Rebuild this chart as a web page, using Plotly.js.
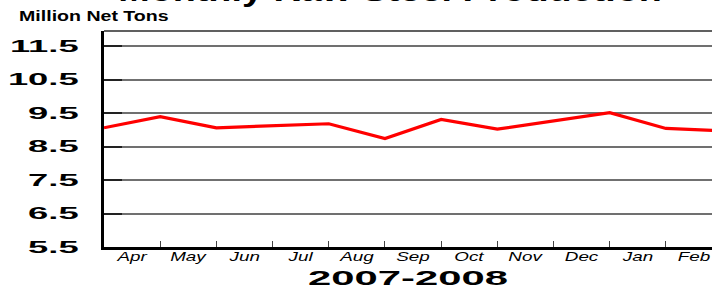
<!DOCTYPE html>
<html>
<head>
<meta charset="utf-8">
<script src="https://cdn.plot.ly/plotly-3.0.1.min.js"></script>
<style>
  html, body { margin: 0; padding: 0; background: #fff; overflow: hidden; }
  #chart { width: 712px; height: 286px; }
</style>
</head>
<body>
<div id="chart"></div>
<script>
// Month labels (shown between tick marks)
const months = ["Apr", "May", "Jun", "Jul", "Aug", "Sep", "Oct", "Nov", "Dec", "Jan", "Feb"];
// Monthly raw steel production, million net tons
const production = [9.06, 9.39, 9.06, 9.12, 9.18, 8.74, 9.31, 9.02, 9.27, 9.51, 9.04, 8.97];
// Y-axis tick values
const yTicks = [5.5, 6.5, 7.5, 8.5, 9.5, 10.5, 11.5];
const yTickText = ["5.5", "6.5", "7.5", "8.5", "9.5", "10.5", "11.5"];

const xIdx = production.map((_, i) => i);
const labelPos = months.map((_, i) => i + 0.5);
const boundaryPos = months.map((_, i) => i + 1);

const trace = {
  x: xIdx,
  y: production,
  type: "scatter",
  mode: "lines",
  line: { color: "#ff0000", width: 3.2 },
  hoverinfo: "skip",
  showlegend: false
};

const layout = {
  width: 712,
  height: 286,
  margin: { l: 104, r: 0, t: 31, b: 39, pad: 0 },
  paper_bgcolor: "#ffffff",
  plot_bgcolor: "#ffffff",
  showlegend: false,
  title: {
    text: "Monthly Raw Steel Production",
    font: { family: "Liberation Sans, Arial, sans-serif", size: 30, color: "#000", weight: "bold" },
    x: 390 / 712, xanchor: "center", xref: "container",
    y: 0.997, yanchor: "bottom", yref: "container"
  },
  xaxis: {
    range: [0, 10.82],
    tickmode: "array",
    tickvals: labelPos,
    ticktext: months,
    ticks: "",
    showgrid: false,
    zeroline: false,
    showline: true,
    linecolor: "#000",
    linewidth: 3,
    tickfont: { family: "Liberation Sans, Arial, sans-serif", size: 13, color: "#000", style: "italic" },
    minor: { tickmode: "array", tickvals: boundaryPos, ticks: "inside", ticklen: 6, tickcolor: "#444", tickwidth: 1, showgrid: false },
    title: {
      text: "2007-2008",
      font: { family: "Liberation Sans, Arial, sans-serif", size: 20, color: "#000", weight: "bold" }
    },
    fixedrange: true
  },
  yaxis: {
    range: [5.5, 11.95],
    tickmode: "array",
    tickvals: yTicks,
    ticktext: yTickText,
    ticks: "inside",
    ticklen: 18,
    tickwidth: 2,
    tickcolor: "#222",
    showgrid: true,
    gridcolor: "#707070",
    gridwidth: 2,
    zeroline: false,
    showline: true,
    linecolor: "#000",
    linewidth: 3,
    ticklabelstandoff: 19,
    tickfont: { family: "Liberation Sans, Arial, sans-serif", size: 16, color: "#000", weight: "bold" },
    fixedrange: true
  },
  shapes: [
    { type: "line", xref: "paper", yref: "paper", x0: 0, x1: 1, y0: 1, y1: 1, line: { color: "#606060", width: 2 } }
  ],
  annotations: [
    {
      text: "Million Net Tons",
      xref: "paper", yref: "paper",
      x: (17 - 104) / 608, y: 1 + (31 - 16) / 216,
      xanchor: "left", yanchor: "middle",
      showarrow: false,
      font: { family: "Liberation Sans, Arial, sans-serif", size: 14, color: "#000", weight: "bold" }
    }
  ]
};

function stretch(nodes, s, anchor, dy) {
  nodes.forEach(t => {
    const b = t.getBBox();
    let cx = b.x + b.width / 2;
    if (anchor === "end") cx = b.x + b.width;
    if (anchor === "start") cx = b.x;
    const cur = t.getAttribute("transform") || "";
    t.setAttribute("transform", cur + " translate(" + cx + "," + (dy || 0) + ") scale(" + s + ",1) translate(" + (-cx) + ",0)");
  });
}

Plotly.newPlot("chart", [trace], layout, { displayModeBar: false, staticPlot: true }).then(gd => {
  // The reference lettering is horizontally extended; widen the real text to match.
  const yt = Array.from(gd.querySelectorAll(".ytick text"));
  let maxW = 0;
  yt.forEach(t => { maxW = Math.max(maxW, t.getBBox().width); });
  stretch(yt, 71 / maxW, "end", 0);
  stretch(Array.from(gd.querySelectorAll(".xtick text")), 1.45, "middle", -5);
  const ann = Array.from(gd.querySelectorAll(".annotation-text"));
  ann.forEach(t => { stretch([t], 150 / t.getBBox().width, "start", 0); });
  const tt = Array.from(gd.querySelectorAll(".gtitle"));
  tt.forEach(t => { stretch([t], 544 / t.getBBox().width, "middle", 0); });
  const xt = Array.from(gd.querySelectorAll(".xtitle"));
  xt.forEach(t => { stretch([t], 200 / t.getBBox().width, "middle", 3); });
});
</script>
</body>
</html>
